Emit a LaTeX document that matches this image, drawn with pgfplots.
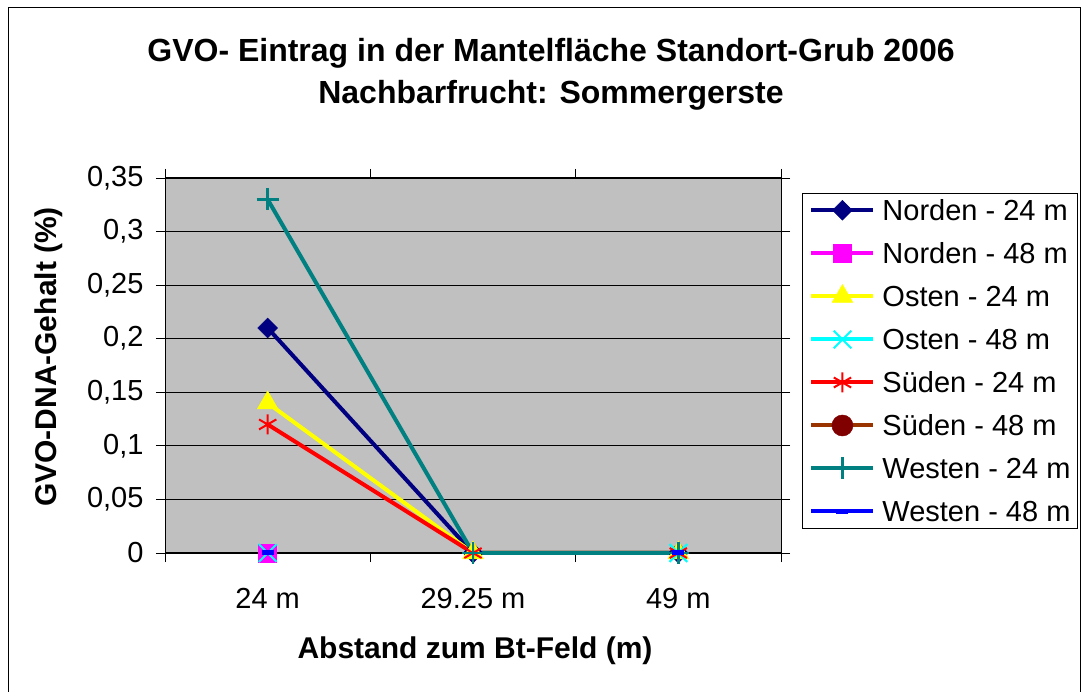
\documentclass[border=0pt]{standalone}
\usepackage{pgfplots}
\pgfplotsset{compat=1.18}
\usepackage{fontspec}
\setmainfont{Liberation Sans}

\definecolor{navy}{RGB}{0,0,128}
\definecolor{magentax}{RGB}{255,0,255}
\definecolor{yellowx}{RGB}{255,255,0}
\definecolor{cyanx}{RGB}{0,255,255}
\definecolor{redx}{RGB}{255,0,0}
\definecolor{bluex}{RGB}{0,0,255}
\definecolor{tealx}{RGB}{0,128,128}
\definecolor{brownline}{RGB}{153,51,0}
\definecolor{maroonx}{RGB}{128,0,0}
\definecolor{plotgray}{RGB}{192,192,192}

% fixed strut so every legend row has the same height
\newcommand\ls{\rule[-2pt]{0pt}{24pt}}

\begin{document}
\begin{tikzpicture}[x=1pt,y=1pt]
\draw[line width=1pt] (8,-20) rectangle (1080,683);
\node[anchor=base, font=\fontsize{32}{38}\selectfont\bfseries] at (551,629.5) {GVO- Eintrag in der Mantelfläche Standort-Grub 2006};
\node[anchor=base, font=\fontsize{32}{38}\selectfont\bfseries] at (551,587.5) {Nachbarfrucht: Sommergerste};
\node[anchor=base, rotate=90, font=\fontsize{30}{36}\selectfont\bfseries] at (57,334) {GVO-DNA-Gehalt (\%)};
\node[anchor=base, font=\fontsize{30}{36}\selectfont\bfseries] at (475,32) {Abstand zum Bt-Feld (m)};

\begin{axis}[
    at={(165pt,138pt)}, anchor=south west,
    width=616pt, height=375pt, scale only axis,
    clip=false,
    xmin=-0.5, xmax=2.5,
    ymin=0, ymax=0.35,
    axis background/.style={fill=plotgray},
    axis line style={black, line width=1pt},
    ytick={0,0.05,0.1,0.15,0.2,0.25,0.3,0.35},
    ymajorgrids,
    major grid style={black, line width=0.8pt},
    tick align=outside,
    major tick length=9pt,
    tick style={black, line width=0.8pt},
    xtick={-0.5,0.5,1.5,2.5},
    xticklabels={},
    extra x ticks={0,1,2},
    extra x tick labels={24 m,29.25 m,49 m},
    extra x tick style={major tick length=0pt, tick label style={yshift=-32pt}},
    tick label style={font=\fontsize{29}{34}\selectfont},
    yticklabel style={anchor=east, xshift=-9pt,
        /pgf/number format/.cd, use comma, fixed, precision=2, assume math mode=true},
    unbounded coords=jump,
    legend cell align=left,
    legend image code/.code={%
        \draw[mark repeat=2,mark phase=2,#1] plot coordinates {(0pt,0pt) (31pt,0pt) (62pt,0pt)};},
    legend style={at={(1.034,0.96)}, anchor=north west, draw=black, line width=1pt,
        fill=white, font=\fontsize{29}{34}\selectfont,
        inner xsep=7pt, inner ysep=5pt, row sep=19.5pt, column sep=7pt,
        nodes={inner sep=0pt}},
]
\addplot[color=navy, line width=4pt, mark=square*, mark size=7pt,
    mark options={solid, rotate=45, fill=navy, line width=0.5pt}]
    coordinates {(0,0.21) (1,0) (2,0)};
\addlegendentry{\ls Norden - 24 m}
\addplot[color=magentax, line width=4pt, mark=square*, mark size=9pt,
    mark options={solid, fill=magentax, line width=0.5pt}]
    coordinates {(0,0)};
\addlegendentry{\ls Norden - 48 m}
\addplot[color=yellowx, line width=4pt, mark=triangle*, mark size=12pt,
    mark options={solid, fill=yellowx, line width=0.5pt}]
    coordinates {(0,0.14) (1,0) (2,0)};
\addlegendentry{\ls Osten - 24 m}
\addplot[color=cyanx, line width=4pt, mark=x, mark size=12.5pt,
    mark options={solid, line width=2pt}]
    coordinates {(0,0) (1,nan) (2,0)};
\addlegendentry{\ls Osten - 48 m}
\addplot[color=redx, line width=4pt, mark=asterisk, mark size=10pt,
    mark options={solid, line width=2pt}]
    coordinates {(0,0.12) (1,0) (2,0)};
\addlegendentry{\ls Süden - 24 m}
\addlegendimage{color=brownline, line width=4pt, mark=*, mark size=10.5pt,
    mark options={solid, fill=maroonx, draw=maroonx, line width=0.5pt}}
\addlegendentry{\ls Süden - 48 m}
\addplot[color=tealx, line width=4pt, mark=+, mark size=11pt,
    mark options={solid, line width=2.5pt}]
    coordinates {(0,0.33) (1,0) (2,0)};
\addlegendentry{\ls Westen - 24 m}
\addplot[color=bluex, line width=4pt, mark=-, mark size=6pt,
    mark options={solid, line width=5pt}]
    coordinates {(0,0) (1,nan) (2,0)};
\addlegendentry{\ls Westen - 48 m}
\end{axis}
\pgfresetboundingbox
\path[use as bounding box] (0,0) rectangle (1082,691);
\end{tikzpicture}
\end{document}
